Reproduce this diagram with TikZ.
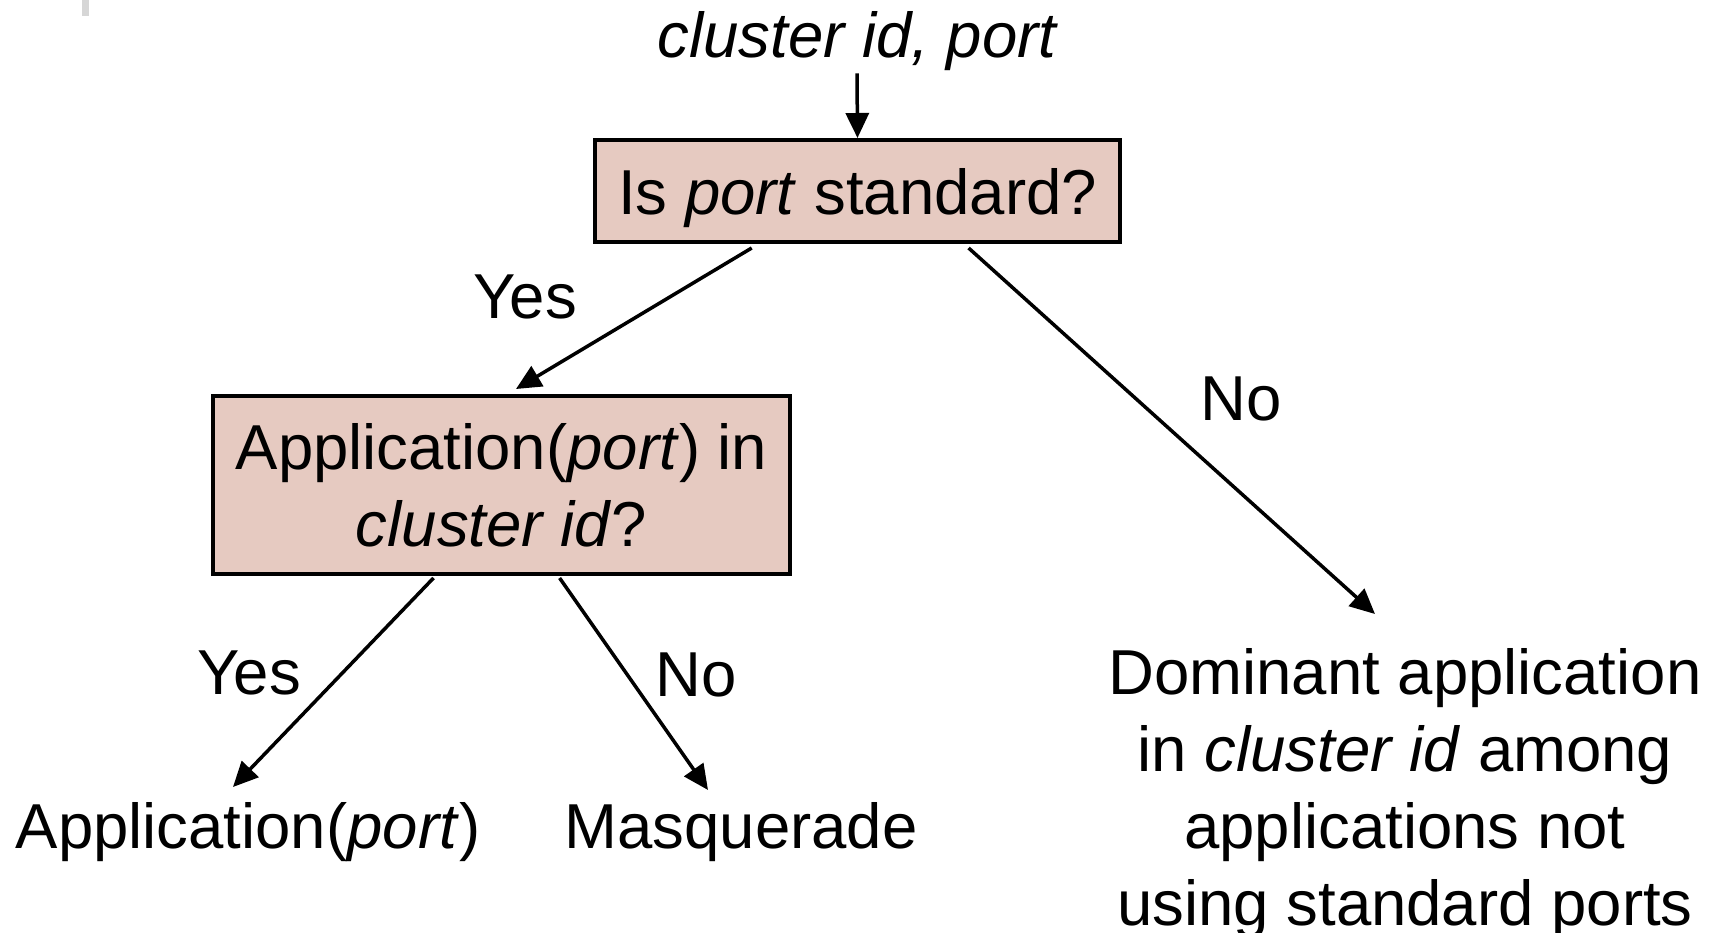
\documentclass[tikz,border=0pt]{standalone}
\usepackage{fontspec}
\setmainfont{Liberation Sans}
\usetikzlibrary{arrows.meta,calc}
\definecolor{boxfill}{RGB}{230,202,193}
\definecolor{barg}{RGB}{214,214,214}
\tikzset{
  txt/.style={font=\fontsize{63.5}{77}\selectfont, inner sep=0pt, align=center},
  qbox/.style={txt, draw=black, line width=4pt, fill=boxfill},
  arr/.style={line width=3.5pt, -{Triangle[length=25pt,width=23pt]}},
}
\begin{document}
\begin{tikzpicture}[x=1pt,y=-1pt]
\useasboundingbox (0,0) rectangle (1714,933);
\fill[barg] (82,0) rectangle (89,16);
\node[txt, anchor=base] (in) at (857,58) {\itshape cluster id, port};
\node[qbox, minimum width=525pt, minimum height=102pt, text depth=0pt] (q1) at (857.5,191) {Is \textit{port} standard?};
\node[qbox, minimum width=577pt, minimum height=178pt] (q2) at (501.5,485) {Application(\textit{port}) in\\ \textit{cluster id}?};
\node[txt, anchor=base] (leafA) at (248,848) {Application(\textit{port})};
\node[txt, anchor=base] (leafB) at (741,848) {Masquerade};
\node[txt] (leafC) at (1405,794) {Dominant application\\ in \textit{cluster id} among\\ applications not\\ using standard ports};
\node[txt, anchor=base] (yes1) at (525,319) {Yes};
\node[txt, anchor=base] (no1) at (1241,420) {No};
\node[txt, anchor=base] (yes2) at (249,694) {Yes};
\node[txt, anchor=base] (no2) at (696,696) {No};
\coordinate (s1) at ($(q1.south west)!0.30!(q1.south east)+(0,4)$);
\coordinate (s2) at ($(q1.south west)!0.71!(q1.south east)+(0,4)$);
\coordinate (s3) at ($(q2.south west)!0.383!(q2.south east)+(0,2)$);
\coordinate (s4) at ($(q2.south west)!0.60!(q2.south east)+(0,2)$);
\coordinate (e1) at (516,389);
\coordinate (e2) at (1375,614);
\coordinate (e3) at (233,787);
\coordinate (e4) at (708,790);
\draw[arr] (in.south) ++(0,2) -- (q1.north);
\draw[arr] (s1) -- (e1);
\draw[arr] (s2) -- (e2);
\draw[arr] (s3) -- (e3);
\draw[arr] (s4) -- (e4);
\end{tikzpicture}
\end{document}
